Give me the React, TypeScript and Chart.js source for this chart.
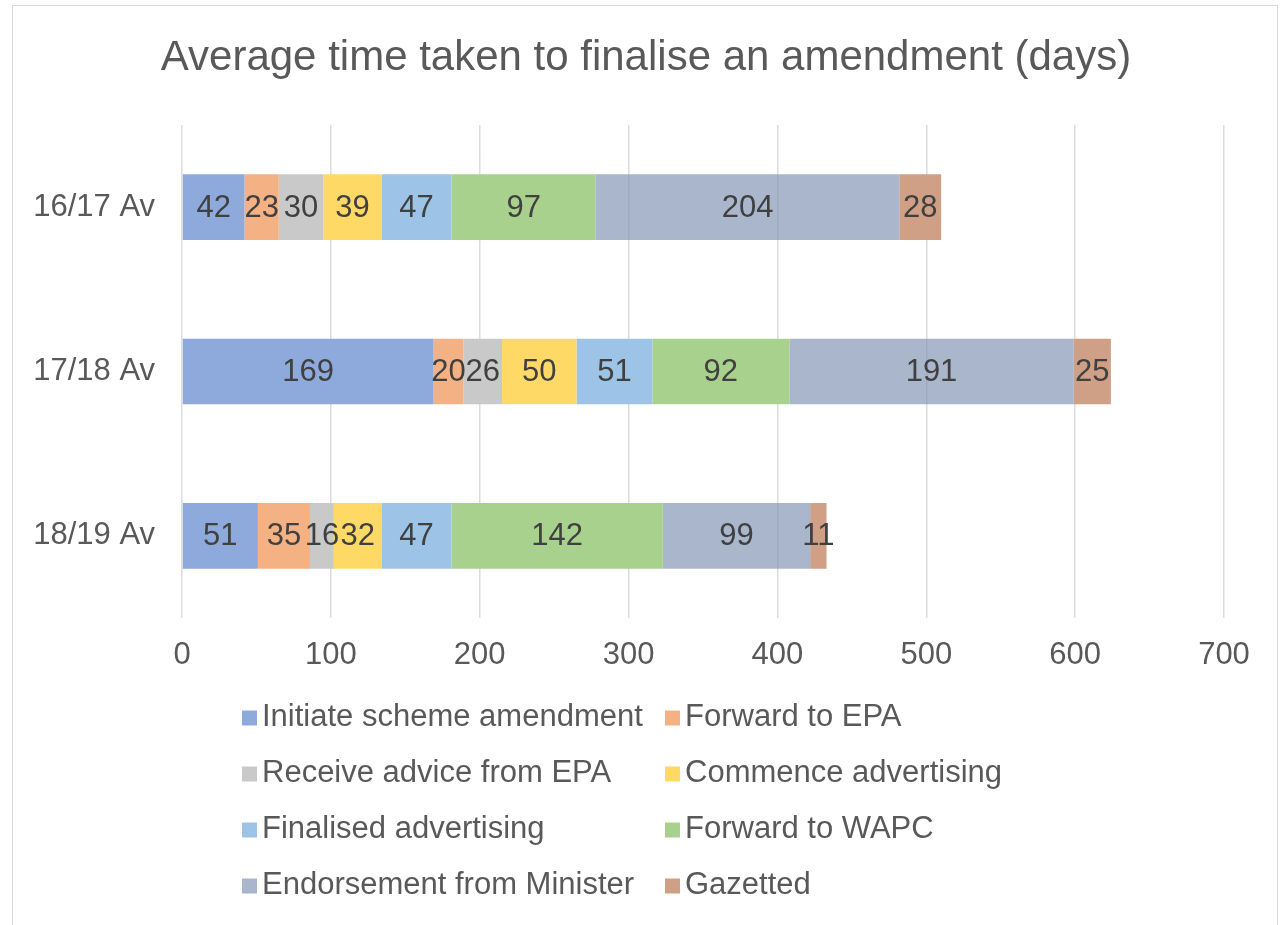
import React, { useEffect, useRef } from "react";
import { Chart, registerables } from "chart.js";

Chart.register(...registerables);

const categories = ["16/17 Av", "17/18 Av", "18/19 Av"];
const seriesNames = [
  "Initiate scheme amendment",
  "Forward to EPA",
  "Receive advice from EPA",
  "Commence advertising",
  "Finalised advertising",
  "Forward to WAPC",
  "Endorsement from Minister",
  "Gazetted",
];
const initiateScheme = [42, 169, 51];
const forwardToEPA = [23, 20, 35];
const receiveAdvice = [30, 26, 16];
const commenceAdvertising = [39, 50, 32];
const finalisedAdvertising = [47, 51, 47];
const forwardToWAPC = [97, 92, 142];
const endorsementMinister = [204, 191, 99];
const gazetted = [28, 25, 11];
const xTickValues = [0, 100, 200, 300, 400, 500, 600, 700];

const seriesColors = [
  "#8EA9DB",
  "#F4B183",
  "#C9C9C9",
  "#FFD966",
  "#9DC3E6",
  "#A9D18E",
  "rgba(128,148,178,0.68)",
  "#CFA085",
];

const FONT = "'Liberation Sans', Arial, sans-serif";
const TEXT = "#595959";

const titlePlugin = {
  id: "customTitle",
  afterDraw(chart: any) {
    const ctx = chart.ctx;
    ctx.save();
    ctx.font = `42px ${FONT}`;
    ctx.fillStyle = TEXT;
    ctx.textAlign = "center";
    ctx.textBaseline = "middle";
    ctx.fillText("Average time taken to finalise an amendment (days)", 646, 58);
    ctx.restore();
  },
};

const valueLabelPlugin = {
  id: "valueLabels",
  afterDatasetsDraw(chart: any) {
    const ctx = chart.ctx;
    ctx.save();
    ctx.font = `31px ${FONT}`;
    ctx.fillStyle = "#404040";
    ctx.textAlign = "center";
    ctx.textBaseline = "middle";
    chart.data.datasets.forEach((ds: any, di: number) => {
      const meta = chart.getDatasetMeta(di);
      meta.data.forEach((el: any, i: number) => {
        const v = ds.data[i];
        const cx = (el.x + el.base) / 2;
        ctx.fillText(String(v), cx, el.y + 1);
      });
    });
    ctx.restore();
  },
};

const legendPlugin = {
  id: "twoColLegend",
  afterDraw(chart: any) {
    const ctx = chart.ctx;
    ctx.save();
    ctx.font = `31px ${FONT}`;
    ctx.textBaseline = "middle";
    ctx.textAlign = "left";
    const colX = [242, 665];
    const rowY0 = 717;
    const rowGap = 56;
    const box = 15;
    chart.data.datasets.forEach((ds: any, i: number) => {
      const col = i % 2;
      const row = Math.floor(i / 2);
      const x = colX[col];
      const y = rowY0 + row * rowGap;
      ctx.fillStyle = ds.backgroundColor;
      ctx.fillRect(x, y - box / 2 + 1, box, box);
      ctx.fillStyle = TEXT;
      ctx.fillText(ds.label, x + 20, y);
    });
    ctx.restore();
  },
};

export default function App() {
  const canvasRef = useRef<HTMLCanvasElement | null>(null);

  useEffect(() => {
    if (!canvasRef.current) return;
    Chart.defaults.font.family = FONT;
    const seriesData = [
      initiateScheme,
      forwardToEPA,
      receiveAdvice,
      commenceAdvertising,
      finalisedAdvertising,
      forwardToWAPC,
      endorsementMinister,
      gazetted,
    ];
    const chart = new Chart(canvasRef.current, {
      type: "bar",
      data: {
        labels: categories,
        datasets: seriesData.map((d, i) => ({
          label: seriesNames[i],
          data: d,
          backgroundColor: seriesColors[i],
          borderWidth: 0,
          categoryPercentage: 1,
          barPercentage: 0.4,
        })),
      },
      options: {
        indexAxis: "y",
        animation: false,
        responsive: false,
        maintainAspectRatio: false,
        layout: { padding: { top: 125, bottom: 247, left: 0, right: 61 } },
        plugins: {
          legend: { display: false },
          title: { display: false },
          tooltip: { enabled: false },
        },
        scales: {
          x: {
            stacked: true,
            min: 0,
            max: 700,
            afterBuildTicks: (axis: any) => {
              axis.ticks = xTickValues.map((v) => ({ value: v }));
            },
            afterFit: (axis: any) => {
              axis.height = 60;
            },
            grid: { color: "#DCDCDC", lineWidth: 1.5, drawTicks: false },
            border: { display: false },
            ticks: {
              color: TEXT,
              font: { size: 31, family: FONT },
              padding: 19,
              maxRotation: 0,
            },
          },
          y: {
            stacked: true,
            afterFit: (axis: any) => {
              axis.width = 182;
            },
            grid: { display: false, drawTicks: false },
            border: { display: false },
            ticks: {
              color: TEXT,
              font: { size: 31, family: FONT },
              padding: 27,
            },
          },
        },
      },
      plugins: [valueLabelPlugin, titlePlugin, legendPlugin],
    });
    return () => chart.destroy();
  }, []);

  return (
    <div style={{ position: "fixed", left: 0, top: 0, width: 1285, height: 925, background: "#fff", overflow: "hidden" }}>
      <div
        style={{
          position: "absolute",
          left: 12,
          top: 5,
          width: 1266,
          height: 960,
          border: "1.5px solid #D9D9D9",
          boxSizing: "border-box",
        }}
      />
      <canvas ref={canvasRef} width={1285} height={925} style={{ position: "absolute", left: 0, top: 0 }} />
    </div>
  );
}
